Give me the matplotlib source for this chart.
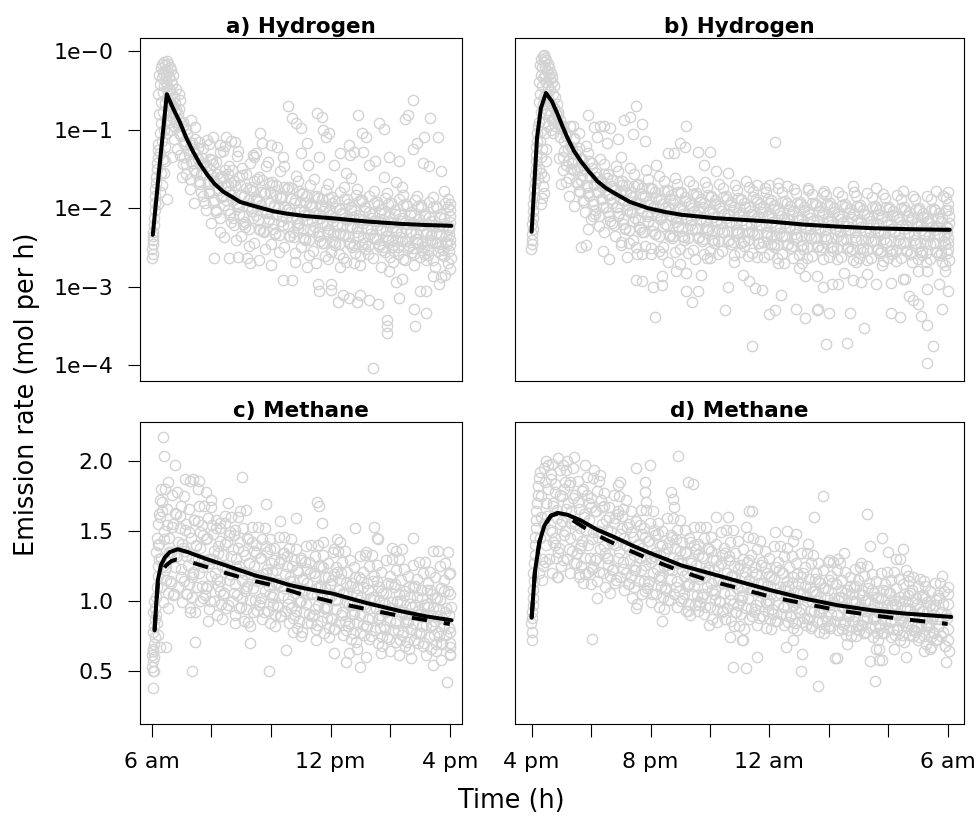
import numpy as np
import matplotlib
matplotlib.use("Agg")
import matplotlib.pyplot as plt

plt.rcParams['font.family'] = ['DejaVu Sans']

# ======================= Panel a: hydrogen, 6 am - 4 pm (log10 mol/h) =======================
a_rise_h = [6.00, 6.02, 6.01, 6.03, 6.04, 6.02, 6.05, 6.07, 6.06, 6.09,
            6.10, 6.12, 6.11, 6.14, 6.15, 6.17, 6.16, 6.19, 6.20, 6.22,
            6.52, 6.35, 6.40, 6.20, 6.28, 6.45]
a_rise_log = [-2.64, -2.58, -2.52, -2.46, -2.40, -2.35, -2.30, -2.22, -2.12, -2.02,
              -1.93, -1.85, -1.76, -1.68, -1.60, -1.50, -1.42, -1.35, -1.26, -1.18,
              -1.89, -1.70, -1.55, -1.95, -1.80, -1.40]
a_peak_h = [6.25, 6.30, 6.35, 6.40, 6.45, 6.50, 6.55, 6.60, 6.65, 6.70,
            6.22, 6.28, 6.33, 6.38, 6.43, 6.48, 6.53, 6.58, 6.63, 6.68,
            6.24, 6.30, 6.36, 6.42, 6.47, 6.52, 6.57, 6.62, 6.67, 6.73,
            6.26, 6.32, 6.38, 6.44, 6.50, 6.56, 6.61, 6.66, 6.72, 6.78,
            6.28, 6.34, 6.40, 6.46, 6.54, 6.60, 6.70, 6.76, 6.82, 6.88,
            6.30, 6.36, 6.44, 6.52, 6.64, 6.74, 6.80, 6.86, 6.92, 6.98,
            6.75, 6.85, 6.68, 6.90, 6.80, 6.90, 6.95]
a_peak_log = [-0.30, -0.22, -0.16, -0.14, -0.18, -0.13, -0.17, -0.20, -0.24, -0.30,
              -0.55, -0.42, -0.35, -0.28, -0.25, -0.30, -0.27, -0.33, -0.38, -0.42,
              -0.80, -0.65, -0.52, -0.45, -0.40, -0.44, -0.48, -0.50, -0.55, -0.58,
              -1.05, -0.92, -0.78, -0.66, -0.60, -0.64, -0.68, -0.72, -0.70, -0.66,
              -1.30, -1.15, -1.00, -0.88, -0.82, -0.90, -0.85, -0.78, -0.74, -0.80,
              -1.55, -1.38, -1.22, -1.05, -1.00, -0.95, -0.90, -0.95, -0.88, -0.92,
              -1.12, -1.25, -1.35, -1.05, -0.48, -0.55, -0.62]
a_band_h = [
    6.90, 7.03, 6.96, 7.09, 6.93, 7.06, 7.00,
    7.30, 7.16, 7.35, 7.23, 7.32, 7.14, 7.27,
    7.44, 7.58, 7.38, 7.54, 7.49, 7.61, 7.42,
    7.84, 7.70, 7.76, 7.65, 7.87, 7.72, 7.81,
    7.90, 8.03, 7.96, 8.09, 7.93, 8.06, 8.00,
    8.30, 8.16, 8.35, 8.23, 8.32, 8.14, 8.27,
    8.44, 8.58, 8.38, 8.54, 8.49, 8.61, 8.42,
    8.84, 8.70, 8.76, 8.65, 8.87, 8.72, 8.81,
    8.90, 9.03, 8.96, 9.09, 8.93, 9.06, 9.00,
    9.30, 9.16, 9.35, 9.23, 9.32, 9.14, 9.27,
    9.44, 9.58, 9.38, 9.54, 9.49, 9.61, 9.42,
    9.84, 9.70, 9.76, 9.65, 9.87, 9.72, 9.81,
    9.90, 10.03, 9.96, 10.09, 9.93, 10.06, 10.00,
    10.30, 10.16, 10.35, 10.23, 10.32, 10.14, 10.27,
    10.44, 10.58, 10.38, 10.54, 10.49, 10.61, 10.42,
    10.84, 10.70, 10.76, 10.65, 10.87, 10.72, 10.81,
    10.90, 11.03, 10.96, 11.09, 10.93, 11.06, 11.00,
    11.30, 11.16, 11.35, 11.23, 11.32, 11.14, 11.27,
    11.44, 11.58, 11.38, 11.54, 11.49, 11.61, 11.42,
    11.84, 11.70, 11.76, 11.65, 11.87, 11.72, 11.81,
    11.90, 12.03, 11.96, 12.09, 11.93, 12.06, 12.00,
    12.30, 12.16, 12.35, 12.23, 12.32, 12.14, 12.27,
    12.44, 12.58, 12.38, 12.54, 12.49, 12.61, 12.42,
    12.84, 12.70, 12.76, 12.65, 12.87, 12.72, 12.81,
    12.90, 13.03, 12.96, 13.09, 12.93, 13.06, 13.00,
    13.30, 13.16, 13.35, 13.23, 13.32, 13.14, 13.27,
    13.44, 13.58, 13.38, 13.54, 13.49, 13.61, 13.42,
    13.84, 13.70, 13.76, 13.65, 13.87, 13.72, 13.81,
    13.90, 14.03, 13.96, 14.09, 13.93, 14.06, 14.00,
    14.30, 14.16, 14.35, 14.23, 14.32, 14.14, 14.27,
    14.44, 14.58, 14.38, 14.54, 14.49, 14.61, 14.42,
    14.84, 14.70, 14.76, 14.65, 14.87, 14.72, 14.81,
    14.90, 15.03, 14.96, 15.09, 14.93, 15.06, 15.00,
    15.30, 15.16, 15.35, 15.23, 15.32, 15.14, 15.27,
    15.44, 15.58, 15.38, 15.54, 15.49, 15.61, 15.42,
    15.84, 15.70, 15.76, 15.65, 15.87, 15.72, 15.81,
    15.95, 16.00, 16.02, 15.97, 16.01, 15.99, 16.03,
    16.00, 16.01, 15.98, 16.02]
a_band_log = [
    -0.74, -0.91, -1.08, -1.19, -1.33, -1.44, -1.61,
    -0.88, -0.99, -1.17, -1.31, -1.40, -1.57, -1.76,
    -0.97, -1.16, -1.29, -1.38, -1.55, -1.69, -1.93,
    -1.13, -1.24, -1.43, -1.57, -1.66, -1.85, -2.03,
    -1.19, -1.39, -1.50, -1.66, -1.81, -1.92, -2.19,
    -1.28, -1.41, -1.59, -1.74, -1.86, -2.05, -2.30,
    -1.21, -1.46, -1.62, -1.71, -1.90, -2.08, -2.37,
    -1.34, -1.52, -1.65, -1.83, -1.97, -2.13, -2.41,
    -1.27, -1.49, -1.70, -1.84, -1.99, -2.20, -2.35,
    -1.42, -1.56, -1.73, -1.90, -2.04, -2.18, -2.48,
    -1.35, -1.61, -1.78, -1.88, -2.09, -2.26, -2.44,
    -1.46, -1.64, -1.81, -1.96, -2.06, -2.29, -2.52,
    -1.41, -1.67, -1.80, -1.99, -2.14, -2.27, -2.46,
    -1.53, -1.70, -1.87, -1.98, -2.17, -2.33, -2.56,
    -1.47, -1.73, -1.85, -2.03, -2.12, -2.36, -2.50,
    -1.59, -1.75, -1.93, -2.05, -2.22, -2.31, -2.57,
    -1.65, -1.81, -1.92, -2.09, -2.19, -2.38, -2.49,
    -1.71, -1.84, -1.99, -2.07, -2.26, -2.41, -2.60,
    -1.63, -1.87, -1.97, -2.14, -2.24, -2.35, -2.54,
    -1.77, -1.89, -2.04, -2.12, -2.29, -2.45, -2.61,
    -1.69, -1.93, -2.02, -2.17, -2.27, -2.42, -2.56,
    -1.80, -1.91, -2.08, -2.20, -2.32, -2.47, -2.59,
    -1.73, -1.95, -2.06, -2.15, -2.34, -2.44, -2.63,
    -1.83, -1.98, -2.11, -2.23, -2.30, -2.50, -2.57,
    -1.76, -1.90, -2.09, -2.19, -2.36, -2.46, -2.61,
    -1.85, -1.99, -2.13, -2.25, -2.33, -2.52, -2.58,
    -1.78, -1.96, -2.07, -2.22, -2.38, -2.48, -2.64,
    -1.87, -2.01, -2.15, -2.27, -2.35, -2.53, -2.56,
    -1.81, -1.94, -2.10, -2.24, -2.40, -2.50, -2.62,
    -1.89, -2.03, -2.17, -2.28, -2.37, -2.55, -2.59,
    -1.83, -1.97, -2.12, -2.26, -2.42, -2.51, -2.65,
    -1.90, -2.05, -2.19, -2.30, -2.39, -2.56, -2.58,
    -1.85, -1.99, -2.14, -2.29, -2.44, -2.53, -2.62,
    -1.92, -2.07, -2.21, -2.31, -2.40, -2.58, -2.60,
    -1.86, -2.00, -2.16, -2.32, -2.45, -2.54, -2.66,
    -1.93, -2.08, -2.23, -2.33, -2.43, -2.59, -2.61,
    -1.88, -2.02, -2.18, -2.34, -2.47, -2.55, -2.64,
    -1.95, -2.10, -2.26, -2.40]
a_core_h = [
    7.04, 7.17, 7.10, 7.21, 7.07, 7.14,
    7.44, 7.30, 7.48, 7.37, 7.41, 7.27,
    7.54, 7.67, 7.60, 7.71, 7.57, 7.64,
    7.94, 7.80, 7.98, 7.87, 7.91, 7.77,
    8.04, 8.17, 8.10, 8.21, 8.07, 8.14,
    8.44, 8.30, 8.48, 8.37, 8.41, 8.27,
    8.54, 8.67, 8.60, 8.71, 8.57, 8.64,
    8.94, 8.80, 8.98, 8.87, 8.91, 8.77,
    9.04, 9.17, 9.10, 9.21, 9.07, 9.14,
    9.44, 9.30, 9.48, 9.37, 9.41, 9.27,
    9.54, 9.67, 9.60, 9.71, 9.57, 9.64,
    9.94, 9.80, 9.98, 9.87, 9.91, 9.77,
    10.04, 10.17, 10.10, 10.21, 10.07, 10.14,
    10.44, 10.30, 10.48, 10.37, 10.41, 10.27,
    10.54, 10.67, 10.60, 10.71, 10.57, 10.64,
    10.94, 10.80, 10.98, 10.87, 10.91, 10.77,
    11.04, 11.17, 11.10, 11.21, 11.07, 11.14,
    11.44, 11.30, 11.48, 11.37, 11.41, 11.27,
    11.54, 11.67, 11.60, 11.71, 11.57, 11.64,
    11.94, 11.80, 11.98, 11.87, 11.91, 11.77,
    12.04, 12.17, 12.10, 12.21, 12.07, 12.14,
    12.44, 12.30, 12.48, 12.37, 12.41, 12.27,
    12.54, 12.67, 12.60, 12.71, 12.57, 12.64,
    12.94, 12.80, 12.98, 12.87, 12.91, 12.77,
    13.04, 13.17, 13.10, 13.21, 13.07, 13.14,
    13.44, 13.30, 13.48, 13.37, 13.41, 13.27,
    13.54, 13.67, 13.60, 13.71, 13.57, 13.64,
    13.94, 13.80, 13.98, 13.87, 13.91, 13.77,
    14.04, 14.17, 14.10, 14.21, 14.07, 14.14,
    14.44, 14.30, 14.48, 14.37, 14.41, 14.27,
    14.54, 14.67, 14.60, 14.71, 14.57, 14.64,
    14.94, 14.80, 14.98, 14.87, 14.91, 14.77,
    15.04, 15.17, 15.10, 15.21, 15.07, 15.14,
    15.44, 15.30, 15.48, 15.37, 15.41, 15.27,
    15.54, 15.67, 15.60, 15.71, 15.57, 15.64,
    15.94, 15.80, 15.98, 15.87, 15.91, 15.77]
a_core_log = [
    -0.96, -1.06, -1.15, -1.26, -1.35, -1.44,
    -1.12, -1.20, -1.31, -1.42, -1.52, -1.63,
    -1.24, -1.36, -1.45, -1.55, -1.66, -1.79,
    -1.37, -1.46, -1.58, -1.69, -1.78, -1.93,
    -1.44, -1.56, -1.66, -1.77, -1.90, -2.03,
    -1.52, -1.61, -1.73, -1.85, -1.96, -2.12,
    -1.56, -1.68, -1.78, -1.90, -2.02, -2.18,
    -1.60, -1.70, -1.83, -1.93, -2.07, -2.21,
    -1.58, -1.74, -1.85, -1.97, -2.10, -2.24,
    -1.65, -1.76, -1.89, -2.00, -2.12, -2.27,
    -1.63, -1.79, -1.91, -2.03, -2.15, -2.28,
    -1.68, -1.81, -1.94, -2.05, -2.17, -2.31,
    -1.70, -1.84, -1.96, -2.08, -2.19, -2.32,
    -1.73, -1.86, -1.98, -2.10, -2.21, -2.34,
    -1.76, -1.88, -2.00, -2.11, -2.23, -2.35,
    -1.78, -1.90, -2.02, -2.13, -2.25, -2.37,
    -1.82, -1.93, -2.04, -2.15, -2.27, -2.39,
    -1.85, -1.95, -2.06, -2.17, -2.29, -2.41,
    -1.84, -1.97, -2.08, -2.19, -2.30, -2.42,
    -1.87, -1.98, -2.09, -2.21, -2.32, -2.44,
    -1.86, -2.00, -2.11, -2.22, -2.33, -2.43,
    -1.89, -2.01, -2.12, -2.23, -2.34, -2.46,
    -1.88, -2.02, -2.13, -2.24, -2.35, -2.44,
    -1.91, -2.03, -2.14, -2.25, -2.36, -2.47,
    -1.90, -2.04, -2.15, -2.26, -2.37, -2.45,
    -1.93, -2.05, -2.16, -2.27, -2.38, -2.48,
    -1.92, -2.06, -2.17, -2.28, -2.39, -2.46,
    -1.95, -2.06, -2.18, -2.29, -2.40, -2.49,
    -1.94, -2.07, -2.18, -2.30, -2.41, -2.47,
    -1.96, -2.08, -2.19, -2.31, -2.42, -2.50,
    -1.95, -2.09, -2.20, -2.31, -2.42, -2.48,
    -1.97, -2.09, -2.21, -2.32, -2.43, -2.51,
    -1.96, -2.10, -2.21, -2.33, -2.44, -2.49,
    -1.98, -2.11, -2.22, -2.34, -2.45, -2.52,
    -1.97, -2.11, -2.23, -2.34, -2.45, -2.50,
    -1.99, -2.12, -2.24, -2.35, -2.46, -2.53]
a_high_h = [10.57, 10.70, 10.85, 11.00, 9.62, 8.05, 8.50, 8.65, 8.80, 8.30,
            8.40, 9.70, 10.00, 10.20, 9.40, 9.50, 11.20, 11.53, 11.70, 11.75,
            11.85, 11.95, 12.60, 12.65, 12.93, 13.04, 13.20, 13.50, 13.62, 13.80,
            13.80, 14.30, 14.50, 14.60, 14.77, 14.75, 14.90, 15.10, 15.33, 15.60,
            15.15, 15.70, 15.80, 12.30, 12.80, 13.10, 13.95, 15.30, 11.25, 11.60,
            12.10, 12.50, 13.30, 14.20, 14.40, 12.70, 11.00, 10.40]
a_high_log = [-0.70, -0.85, -0.92, -0.98, -1.04, -1.09, -1.10, -1.14, -1.16, -1.20,
              -1.27, -1.17, -1.20, -1.22, -1.32, -1.30, -1.17, -0.79, -0.84, -1.00,
              -1.09, -1.04, -1.20, -1.33, -0.82, -1.05, -1.10, -1.40, -0.92, -0.99,
              -1.60, -1.40, -0.86, -0.82, -0.62, -1.25, -1.17, -1.42, -0.85, -1.09,
              -1.10, -1.53, -1.78, -1.30, -1.28, -1.28, -1.35, -1.47, -1.45, -1.35,
              -1.45, -1.55, -1.45, -1.67, -1.73, -1.62, -1.30, -1.35]
a_low_h = [8.10, 8.60, 8.90, 9.20, 9.60, 10.40, 10.70, 11.57, 11.60, 12.00,
           12.02, 12.25, 12.40, 12.60, 12.90, 13.00, 13.30, 13.60, 13.88, 13.90,
           13.88, 14.20, 14.40, 14.30, 14.80, 14.82, 15.00, 15.20, 15.20, 15.45,
           15.70, 15.65, 13.43, 11.20, 11.50, 11.90, 12.30, 12.80, 13.00, 13.70,
           13.95, 14.50, 14.80, 15.20, 15.50, 15.85, 10.80, 10.00, 9.30, 12.50,
           14.10, 15.95, 16.00]
a_low_log = [-2.64, -2.64, -2.62, -2.64, -2.66, -2.92, -2.91, -2.97, -3.06, -2.96,
             -3.04, -3.20, -3.10, -3.15, -3.20, -3.10, -3.17, -3.22, -3.43, -3.50,
             -3.59, -2.94, -2.90, -3.14, -3.28, -3.50, -3.05, -3.05, -3.33, -2.87,
             -2.88, -2.97, -4.04, -2.75, -2.70, -2.65, -2.75, -2.70, -2.72, -2.75,
             -2.80, -2.66, -2.72, -2.66, -2.75, -2.85, -2.68, -2.72, -2.70, -2.68,
             -2.68, -2.70, -2.78]
a_fit_h = [6.03, 6.26, 6.50, 6.71, 6.93, 7.16, 7.38, 7.60, 7.83, 8.10, 8.39,
           8.70, 8.95, 9.40, 10.07, 10.52, 11.13, 12.08, 13.21, 14.33, 15.20, 16.05]
a_fit_log = [-2.34, -1.45, -0.55, -0.73, -0.90, -1.11, -1.28, -1.43, -1.56, -1.69, -1.79,
             -1.86, -1.92, -1.97, -2.04, -2.07, -2.10, -2.13, -2.17, -2.20, -2.215, -2.225]

# ======================= Panel b: hydrogen, 4 pm - 6 am (hours from midnight, day 1) ==========
b_rise_h = [15.98, 16.00, 16.02, 16.01, 16.03, 16.00, 16.04, 16.06, 16.05, 16.08,
            16.09, 16.11, 16.10, 16.13, 16.14, 16.16, 16.15, 16.18, 16.19, 16.21,
            16.35, 16.43, 16.33, 16.42, 16.50, 16.30, 16.38, 16.25, 16.20, 16.47]
b_rise_log = [-2.52, -2.46, -2.40, -2.33, -2.27, -2.20, -2.12, -2.04, -1.95, -1.86,
              -1.76, -1.68, -1.58, -1.50, -1.40, -1.32, -1.22, -1.15, -1.05, -0.95,
              -1.87, -1.81, -1.55, -1.60, -1.40, -1.95, -1.72, -1.50, -1.62, -1.25]
b_peak_h = [16.28, 16.33, 16.38, 16.42, 16.46, 16.50, 16.55, 16.60, 16.64, 16.70,
            16.25, 16.30, 16.35, 16.40, 16.45, 16.52, 16.57, 16.62, 16.68, 16.74,
            16.24, 16.29, 16.34, 16.39, 16.44, 16.49, 16.56, 16.63, 16.71, 16.78,
            16.26, 16.31, 16.37, 16.43, 16.48, 16.54, 16.61, 16.69, 16.76, 16.84,
            16.27, 16.33, 16.40, 16.47, 16.53, 16.60, 16.67, 16.74, 16.82, 16.90,
            16.30, 16.36, 16.46, 16.55, 16.65, 16.72, 16.80, 16.88, 16.95, 17.00]
b_peak_log = [-0.18, -0.10, -0.06, -0.05, -0.09, -0.12, -0.16, -0.22, -0.28, -0.33,
              -0.40, -0.30, -0.20, -0.14, -0.20, -0.26, -0.30, -0.36, -0.40, -0.45,
              -0.65, -0.55, -0.45, -0.34, -0.32, -0.40, -0.46, -0.50, -0.55, -0.58,
              -0.90, -0.78, -0.68, -0.58, -0.55, -0.60, -0.66, -0.70, -0.72, -0.68,
              -1.15, -1.02, -0.90, -0.80, -0.75, -0.82, -0.88, -0.85, -0.80, -0.78,
              -1.35, -1.25, -1.05, -0.95, -1.00, -1.05, -0.95, -0.92, -0.88, -0.96]
b_band_h = [
    16.90, 17.03, 16.96, 17.09, 16.93, 17.06, 17.00,
    17.30, 17.16, 17.35, 17.23, 17.32, 17.14, 17.27,
    17.44, 17.58, 17.38, 17.54, 17.49, 17.61, 17.42,
    17.84, 17.70, 17.76, 17.65, 17.87, 17.72, 17.81,
    17.90, 18.03, 17.96, 18.09, 17.93, 18.06, 18.00,
    18.30, 18.16, 18.35, 18.23, 18.32, 18.14, 18.27,
    18.44, 18.58, 18.38, 18.54, 18.49, 18.61, 18.42,
    18.84, 18.70, 18.76, 18.65, 18.87, 18.72, 18.81,
    18.90, 19.03, 18.96, 19.09, 18.93, 19.06, 19.00,
    19.30, 19.16, 19.35, 19.23, 19.32, 19.14, 19.27,
    19.44, 19.58, 19.38, 19.54, 19.49, 19.61, 19.42,
    19.84, 19.70, 19.76, 19.65, 19.87, 19.72, 19.81,
    19.90, 20.03, 19.96, 20.09, 19.93, 20.06, 20.00,
    20.30, 20.16, 20.35, 20.23, 20.32, 20.14, 20.27,
    20.44, 20.58, 20.38, 20.54, 20.49, 20.61, 20.42,
    20.84, 20.70, 20.76, 20.65, 20.87, 20.72, 20.81,
    20.90, 21.03, 20.96, 21.09, 20.93, 21.06, 21.00,
    21.30, 21.16, 21.35, 21.23, 21.32, 21.14, 21.27,
    21.44, 21.58, 21.38, 21.54, 21.49, 21.61, 21.42,
    21.84, 21.70, 21.76, 21.65, 21.87, 21.72, 21.81,
    21.90, 22.03, 21.96, 22.09, 21.93, 22.06, 22.00,
    22.30, 22.16, 22.35, 22.23, 22.32, 22.14, 22.27,
    22.44, 22.58, 22.38, 22.54, 22.49, 22.61, 22.42,
    22.84, 22.70, 22.76, 22.65, 22.87, 22.72, 22.81,
    22.90, 23.03, 22.96, 23.09, 22.93, 23.06, 23.00,
    23.30, 23.16, 23.35, 23.23, 23.32, 23.14, 23.27,
    23.44, 23.58, 23.38, 23.54, 23.49, 23.61, 23.42,
    23.84, 23.70, 23.76, 23.65, 23.87, 23.72, 23.81,
    23.90, 24.03, 23.96, 24.09, 23.93, 24.06, 24.00,
    24.30, 24.16, 24.35, 24.23, 24.32, 24.14, 24.27,
    24.44, 24.58, 24.38, 24.54, 24.49, 24.61, 24.42,
    24.84, 24.70, 24.76, 24.65, 24.87, 24.72, 24.81,
    24.90, 25.03, 24.96, 25.09, 24.93, 25.06, 25.00,
    25.30, 25.16, 25.35, 25.23, 25.32, 25.14, 25.27,
    25.44, 25.58, 25.38, 25.54, 25.49, 25.61, 25.42,
    25.84, 25.70, 25.76, 25.65, 25.87, 25.72, 25.81,
    25.90, 26.03, 25.96, 26.09, 25.93, 26.06, 26.00,
    26.30, 26.16, 26.35, 26.23, 26.32, 26.14, 26.27,
    26.44, 26.58, 26.38, 26.54, 26.49, 26.61, 26.42,
    26.84, 26.70, 26.76, 26.65, 26.87, 26.72, 26.81,
    26.90, 27.03, 26.96, 27.09, 26.93, 27.06, 27.00,
    27.30, 27.16, 27.35, 27.23, 27.32, 27.14, 27.27,
    27.44, 27.58, 27.38, 27.54, 27.49, 27.61, 27.42,
    27.84, 27.70, 27.76, 27.65, 27.87, 27.72, 27.81,
    27.90, 28.03, 27.96, 28.09, 27.93, 28.06, 28.00,
    28.30, 28.16, 28.35, 28.23, 28.32, 28.14, 28.27,
    28.44, 28.58, 28.38, 28.54, 28.49, 28.61, 28.42,
    28.84, 28.70, 28.76, 28.65, 28.87, 28.72, 28.81,
    28.90, 29.03, 28.96, 29.09, 28.93, 29.06, 29.00,
    29.30, 29.16, 29.35, 29.23, 29.32, 29.14, 29.27,
    29.44, 29.58, 29.38, 29.54, 29.49, 29.61, 29.42,
    29.84, 29.70, 29.76, 29.65, 29.87, 29.72, 29.81,
    29.95, 30.00, 30.03, 29.98, 30.01, 29.97, 30.04,
    30.02, 30.00, 30.03, 29.98, 30.01, 30.00]
b_band_log = [
    -0.81, -0.99, -1.10, -1.27, -1.36, -1.52, -1.69,
    -0.96, -1.08, -1.25, -1.40, -1.50, -1.67, -1.84,
    -1.11, -1.23, -1.41, -1.50, -1.67, -1.78, -1.97,
    -1.21, -1.38, -1.49, -1.64, -1.73, -1.90, -2.05,
    -1.30, -1.43, -1.60, -1.69, -1.85, -1.95, -2.14,
    -1.38, -1.55, -1.64, -1.79, -1.88, -2.07, -2.23,
    -1.44, -1.56, -1.73, -1.82, -1.98, -2.10, -2.31,
    -1.46, -1.64, -1.74, -1.89, -1.99, -2.19, -2.36,
    -1.53, -1.65, -1.81, -1.90, -2.06, -2.20, -2.43,
    -1.49, -1.70, -1.80, -1.96, -2.05, -2.25, -2.44,
    -1.57, -1.69, -1.86, -1.95, -2.12, -2.24, -2.41,
    -1.52, -1.74, -1.85, -2.00, -2.10, -2.30, -2.48,
    -1.63, -1.75, -1.91, -2.00, -2.16, -2.29, -2.51,
    -1.59, -1.79, -1.89, -2.05, -2.14, -2.33, -2.54,
    -1.66, -1.78, -1.95, -2.04, -2.20, -2.35, -2.50,
    -1.62, -1.83, -1.93, -2.09, -2.18, -2.38, -2.56,
    -1.69, -1.81, -1.98, -2.07, -2.23, -2.36, -2.52,
    -1.65, -1.86, -1.96, -2.12, -2.21, -2.40, -2.57,
    -1.71, -1.84, -2.00, -2.09, -2.26, -2.38, -2.53,
    -1.67, -1.88, -1.98, -2.14, -2.24, -2.42, -2.58,
    -1.73, -1.86, -2.02, -2.11, -2.28, -2.40, -2.54,
    -1.69, -1.90, -2.00, -2.16, -2.26, -2.44, -2.59,
    -1.75, -1.88, -2.04, -2.13, -2.30, -2.42, -2.55,
    -1.71, -1.92, -2.02, -2.18, -2.28, -2.46, -2.60,
    -1.77, -1.90, -2.06, -2.15, -2.32, -2.44, -2.56,
    -1.73, -1.94, -2.04, -2.20, -2.30, -2.48, -2.61,
    -1.78, -1.92, -2.08, -2.17, -2.34, -2.45, -2.57,
    -1.74, -1.95, -2.05, -2.22, -2.31, -2.49, -2.62,
    -1.79, -1.93, -2.09, -2.18, -2.35, -2.46, -2.58,
    -1.75, -1.96, -2.06, -2.23, -2.32, -2.50, -2.63,
    -1.80, -1.94, -2.10, -2.19, -2.36, -2.47, -2.59,
    -1.76, -1.97, -2.07, -2.24, -2.33, -2.51, -2.64,
    -1.81, -1.95, -2.11, -2.20, -2.37, -2.48, -2.60,
    -1.77, -1.98, -2.08, -2.25, -2.34, -2.52, -2.64,
    -1.82, -1.96, -2.12, -2.21, -2.38, -2.49, -2.61,
    -1.78, -1.99, -2.09, -2.26, -2.35, -2.53, -2.65,
    -1.83, -1.97, -2.13, -2.22, -2.39, -2.50, -2.62,
    -1.79, -2.00, -2.10, -2.27, -2.36, -2.54, -2.65,
    -1.84, -1.98, -2.14, -2.23, -2.40, -2.51, -2.62,
    -1.80, -2.01, -2.11, -2.28, -2.37, -2.55, -2.66,
    -1.85, -1.99, -2.15, -2.24, -2.41, -2.52, -2.63,
    -1.81, -2.02, -2.12, -2.29, -2.38, -2.56, -2.66,
    -1.86, -2.00, -2.16, -2.25, -2.42, -2.53, -2.63,
    -1.82, -2.03, -2.13, -2.30, -2.39, -2.57, -2.67,
    -1.87, -2.01, -2.17, -2.26, -2.43, -2.54, -2.64,
    -1.83, -2.04, -2.14, -2.31, -2.40, -2.58, -2.67,
    -1.88, -2.02, -2.18, -2.27, -2.44, -2.55, -2.64,
    -1.84, -2.05, -2.15, -2.32, -2.41, -2.59, -2.68,
    -1.89, -2.03, -2.19, -2.28, -2.45, -2.56, -2.65,
    -1.85, -2.06, -2.16, -2.33, -2.42, -2.60, -2.68,
    -1.88, -2.03, -2.19, -2.28, -2.45, -2.56, -2.65,
    -1.84, -2.06, -2.16, -2.33, -2.42, -2.60, -2.69,
    -1.87, -2.03, -2.19, -2.30, -2.45, -2.57, -2.66,
    -1.80, -1.95, -2.10, -2.25, -2.38, -2.52]
b_core_h = [
    17.04, 17.17, 17.10, 17.21, 17.07, 17.14,
    17.44, 17.30, 17.48, 17.37, 17.41, 17.27,
    17.54, 17.67, 17.60, 17.71, 17.57, 17.64,
    17.94, 17.80, 17.98, 17.87, 17.91, 17.77,
    18.04, 18.17, 18.10, 18.21, 18.07, 18.14,
    18.44, 18.30, 18.48, 18.37, 18.41, 18.27,
    18.54, 18.67, 18.60, 18.71, 18.57, 18.64,
    18.94, 18.80, 18.98, 18.87, 18.91, 18.77,
    19.04, 19.17, 19.10, 19.21, 19.07, 19.14,
    19.44, 19.30, 19.48, 19.37, 19.41, 19.27,
    19.54, 19.67, 19.60, 19.71, 19.57, 19.64,
    19.94, 19.80, 19.98, 19.87, 19.91, 19.77,
    20.04, 20.17, 20.10, 20.21, 20.07, 20.14,
    20.44, 20.30, 20.48, 20.37, 20.41, 20.27,
    20.54, 20.67, 20.60, 20.71, 20.57, 20.64,
    20.94, 20.80, 20.98, 20.87, 20.91, 20.77,
    21.04, 21.17, 21.10, 21.21, 21.07, 21.14,
    21.44, 21.30, 21.48, 21.37, 21.41, 21.27,
    21.54, 21.67, 21.60, 21.71, 21.57, 21.64,
    21.94, 21.80, 21.98, 21.87, 21.91, 21.77,
    22.04, 22.17, 22.10, 22.21, 22.07, 22.14,
    22.44, 22.30, 22.48, 22.37, 22.41, 22.27,
    22.54, 22.67, 22.60, 22.71, 22.57, 22.64,
    22.94, 22.80, 22.98, 22.87, 22.91, 22.77,
    23.04, 23.17, 23.10, 23.21, 23.07, 23.14,
    23.44, 23.30, 23.48, 23.37, 23.41, 23.27,
    23.54, 23.67, 23.60, 23.71, 23.57, 23.64,
    23.94, 23.80, 23.98, 23.87, 23.91, 23.77,
    24.04, 24.17, 24.10, 24.21, 24.07, 24.14,
    24.44, 24.30, 24.48, 24.37, 24.41, 24.27,
    24.54, 24.67, 24.60, 24.71, 24.57, 24.64,
    24.94, 24.80, 24.98, 24.87, 24.91, 24.77,
    25.04, 25.17, 25.10, 25.21, 25.07, 25.14,
    25.44, 25.30, 25.48, 25.37, 25.41, 25.27,
    25.54, 25.67, 25.60, 25.71, 25.57, 25.64,
    25.94, 25.80, 25.98, 25.87, 25.91, 25.77,
    26.04, 26.17, 26.10, 26.21, 26.07, 26.14,
    26.44, 26.30, 26.48, 26.37, 26.41, 26.27,
    26.54, 26.67, 26.60, 26.71, 26.57, 26.64,
    26.94, 26.80, 26.98, 26.87, 26.91, 26.77,
    27.04, 27.17, 27.10, 27.21, 27.07, 27.14,
    27.44, 27.30, 27.48, 27.37, 27.41, 27.27,
    27.54, 27.67, 27.60, 27.71, 27.57, 27.64,
    27.94, 27.80, 27.98, 27.87, 27.91, 27.77,
    28.04, 28.17, 28.10, 28.21, 28.07, 28.14,
    28.44, 28.30, 28.48, 28.37, 28.41, 28.27,
    28.54, 28.67, 28.60, 28.71, 28.57, 28.64,
    28.94, 28.80, 28.98, 28.87, 28.91, 28.77,
    29.04, 29.17, 29.10, 29.21, 29.07, 29.14,
    29.44, 29.30, 29.48, 29.37, 29.41, 29.27,
    29.54, 29.67, 29.60, 29.71, 29.57, 29.64,
    29.94, 29.80, 29.98, 29.87, 29.91, 29.77]
b_core_log = [
    -0.96, -1.05, -1.15, -1.25, -1.35, -1.45,
    -1.12, -1.21, -1.31, -1.42, -1.52, -1.62,
    -1.27, -1.37, -1.48, -1.58, -1.69, -1.80,
    -1.40, -1.50, -1.60, -1.71, -1.81, -1.92,
    -1.49, -1.60, -1.70, -1.80, -1.91, -2.02,
    -1.57, -1.67, -1.77, -1.88, -1.99, -2.10,
    -1.62, -1.72, -1.83, -1.94, -2.05, -2.16,
    -1.67, -1.77, -1.88, -1.99, -2.10, -2.22,
    -1.70, -1.80, -1.91, -2.02, -2.14, -2.26,
    -1.72, -1.83, -1.94, -2.05, -2.16, -2.28,
    -1.71, -1.82, -1.93, -2.04, -2.15, -2.27,
    -1.74, -1.85, -1.96, -2.07, -2.18, -2.30,
    -1.76, -1.87, -1.98, -2.09, -2.21, -2.33,
    -1.78, -1.89, -2.00, -2.11, -2.23, -2.35,
    -1.77, -1.88, -1.99, -2.10, -2.22, -2.34,
    -1.79, -1.90, -2.01, -2.12, -2.24, -2.36,
    -1.80, -1.91, -2.02, -2.14, -2.25, -2.37,
    -1.82, -1.93, -2.04, -2.15, -2.26, -2.38,
    -1.81, -1.92, -2.03, -2.14, -2.26, -2.37,
    -1.83, -1.94, -2.05, -2.16, -2.27, -2.39,
    -1.84, -1.95, -2.06, -2.17, -2.29, -2.41,
    -1.86, -1.97, -2.08, -2.19, -2.30, -2.42,
    -1.85, -1.96, -2.07, -2.18, -2.29, -2.41,
    -1.87, -1.98, -2.09, -2.20, -2.31, -2.43,
    -1.88, -1.99, -2.10, -2.21, -2.32, -2.42,
    -1.86, -1.98, -2.09, -2.20, -2.31, -2.41,
    -1.89, -2.00, -2.11, -2.22, -2.33, -2.44,
    -1.88, -1.99, -2.10, -2.21, -2.32, -2.43,
    -1.90, -2.01, -2.12, -2.23, -2.35, -2.46,
    -1.92, -2.03, -2.14, -2.25, -2.36, -2.47,
    -1.91, -2.02, -2.13, -2.24, -2.35, -2.46,
    -1.93, -2.04, -2.15, -2.26, -2.37, -2.48,
    -1.92, -2.03, -2.14, -2.25, -2.36, -2.47,
    -1.94, -2.05, -2.16, -2.27, -2.38, -2.49,
    -1.93, -2.04, -2.15, -2.26, -2.37, -2.48,
    -1.95, -2.06, -2.17, -2.28, -2.39, -2.50,
    -1.94, -2.05, -2.16, -2.27, -2.38, -2.49,
    -1.96, -2.07, -2.18, -2.29, -2.40, -2.51,
    -1.95, -2.06, -2.17, -2.28, -2.39, -2.50,
    -1.97, -2.08, -2.19, -2.30, -2.41, -2.52,
    -1.96, -2.07, -2.18, -2.29, -2.40, -2.51,
    -1.98, -2.09, -2.20, -2.31, -2.42, -2.53,
    -1.97, -2.08, -2.19, -2.30, -2.41, -2.52,
    -1.99, -2.10, -2.21, -2.32, -2.43, -2.54,
    -1.98, -2.09, -2.20, -2.31, -2.42, -2.53,
    -2.00, -2.11, -2.22, -2.33, -2.44, -2.55,
    -1.99, -2.10, -2.21, -2.32, -2.43, -2.54,
    -2.01, -2.12, -2.23, -2.34, -2.45, -2.56,
    -2.00, -2.11, -2.22, -2.33, -2.44, -2.55,
    -2.02, -2.13, -2.24, -2.35, -2.46, -2.57,
    -2.01, -2.12, -2.23, -2.34, -2.45, -2.56,
    -2.02, -2.13, -2.24, -2.35, -2.46, -2.57]
b_high_h = [17.90, 19.50, 18.10, 18.30, 18.45, 18.65, 19.10, 19.30, 19.70, 19.40,
            19.80, 21.20, 18.20, 18.55, 18.90, 21.00, 21.15, 21.60, 22.00, 20.60,
            20.80, 21.80, 22.20, 24.20, 24.30, 24.60, 23.60, 24.00, 25.80, 22.60,
            26.80, 27.60, 28.50, 29.60, 25.30, 23.20, 20.20, 19.00, 17.40, 17.60]
b_high_log = [-0.81, -0.70, -0.97, -0.95, -0.96, -0.98, -0.88, -0.84, -0.93, -1.06,
              -1.14, -0.96, -1.10, -1.17, -1.12, -1.17, -1.22, -1.28, -1.28, -1.30,
              -1.30, -1.45, -1.53, -1.16, -1.68, -1.72, -1.70, -1.70, -1.81, -1.55,
              -1.72, -1.75, -1.78, -1.78, -1.74, -1.66, -1.45, -1.35, -0.95, -1.05]
b_low_h = [17.66, 17.90, 17.83, 18.05, 19.00, 19.50, 19.55, 19.70, 20.00, 20.40,
           21.00, 21.20, 20.85, 20.40, 19.50, 19.70, 20.10, 20.40, 21.20, 21.60,
           21.40, 21.70, 21.90, 22.00, 22.60, 22.50, 20.15, 23.10, 23.30, 23.50,
           23.75, 24.40, 24.00, 24.20, 24.90, 25.20, 25.60, 25.65, 26.00, 26.70,
           27.20, 25.90, 26.60, 23.40, 28.10, 28.40, 28.70, 29.00, 28.85, 29.10,
           29.30, 29.50, 29.30, 29.80, 30.00, 29.70, 29.30, 27.60, 28.10, 28.50,
           26.10, 26.30, 25.80, 26.50, 26.80, 27.10, 27.30, 25.20, 25.60, 25.00,
           25.10, 24.30, 24.50, 23.60, 28.55, 29.00, 29.30, 29.90, 29.92, 27.80,
           26.90, 22.80, 21.50, 20.60, 19.20, 18.40, 18.60]
b_low_log = [-2.49, -2.26, -2.47, -2.10, -2.47, -2.49, -2.59, -2.59, -2.58, -2.58,
             -2.71, -2.83, -2.80, -2.86, -2.91, -2.93, -3.00, -2.98, -3.06, -3.06,
             -3.19, -2.85, -2.64, -2.64, -3.00, -3.30, -3.38, -2.85, -2.93, -3.02,
             -3.04, -3.10, -3.35, -3.30, -3.29, -3.40, -3.30, -3.29, -3.33, -3.33,
             -3.52, -3.73, -3.72, -3.76, -3.33, -3.39, -3.12, -3.22, -3.17, -3.37,
             -3.49, -3.75, -3.97, -3.29, -3.05, -2.96, -3.03, -2.97, -2.95, -2.90,
             -2.97, -2.97, -3.00, -2.82, -2.92, -2.94, -2.84, -2.86, -2.86, -2.76,
             -2.70, -2.70, -2.70, -2.62, -2.90, -2.80, -2.80, -2.80, -2.72, -2.72,
             -2.68, -2.68, -2.65, -2.68, -2.62, -2.55, -2.65]
b_fit_h = [16.00, 16.09, 16.18, 16.31, 16.48, 16.68, 16.88, 17.05, 17.21, 17.42, 17.66,
           17.94, 18.22, 18.50, 18.79, 19.30, 19.91, 20.50, 21.04, 22.16, 23.10, 24.00,
           25.18, 26.30, 27.43, 28.70, 30.07]
b_fit_log = [-2.30, -1.70, -1.11, -0.73, -0.535, -0.64, -0.81, -0.97, -1.11, -1.27, -1.405,
             -1.54, -1.66, -1.745, -1.81, -1.92, -2.00, -2.05, -2.085, -2.127, -2.149, -2.17,
             -2.21, -2.235, -2.255, -2.268, -2.276]

# ======================= Panel c: methane, 6 am - 4 pm (mol/h) =======================
c_rise_h = [6.03, 6.02, 6.06, 6.00, 6.04, 6.01, 6.05, 6.07, 6.03, 6.08,
            6.10, 6.02, 6.06, 6.09, 6.04, 6.12, 6.08, 6.15, 6.13, 6.18,
            6.26, 6.20, 6.16, 6.19, 6.22, 6.14, 6.25, 6.18, 6.21, 6.24,
            6.27, 6.22]
c_rise_v = [0.375, 0.50, 0.50, 0.53, 0.57, 0.61, 0.64, 0.60, 0.66, 0.69,
            0.74, 0.78, 0.82, 0.87, 0.92, 0.95, 1.00, 1.03, 0.90, 0.84,
            0.67, 0.76, 1.10, 1.18, 1.25, 1.35, 1.30, 1.45, 1.55, 1.62,
            1.72, 1.40]
c_band_h = [
    6.30, 6.35, 6.27, 6.41, 6.25, 6.32, 6.43, 6.29, 6.38,
    6.67, 6.50, 6.72, 6.57, 6.64, 6.47, 6.60, 6.70, 6.54,
    6.85, 6.99, 6.79, 6.93, 7.03, 6.83, 6.96, 6.88, 7.00,
    7.08, 7.25, 7.16, 7.31, 7.12, 7.22, 7.33, 7.19, 7.28,
    7.57, 7.40, 7.62, 7.47, 7.54, 7.37, 7.50, 7.60, 7.44,
    7.75, 7.89, 7.69, 7.83, 7.93, 7.73, 7.86, 7.78, 7.90,
    7.98, 8.15, 8.06, 8.21, 8.02, 8.12, 8.23, 8.09, 8.18,
    8.47, 8.30, 8.52, 8.37, 8.44, 8.27, 8.40, 8.50, 8.34,
    8.65, 8.79, 8.59, 8.73, 8.83, 8.63, 8.76, 8.68, 8.80,
    8.88, 9.05, 8.96, 9.11, 8.92, 9.02, 9.13, 8.99, 9.08,
    9.37, 9.20, 9.42, 9.27, 9.34, 9.17, 9.30, 9.40, 9.24,
    9.55, 9.69, 9.49, 9.63, 9.73, 9.53, 9.66, 9.58, 9.70,
    9.78, 9.95, 9.86, 10.01, 9.82, 9.92, 10.03, 9.89, 9.98,
    10.27, 10.10, 10.32, 10.17, 10.24, 10.07, 10.20, 10.30, 10.14,
    10.45, 10.59, 10.39, 10.53, 10.63, 10.43, 10.56, 10.48, 10.60,
    10.68, 10.85, 10.76, 10.91, 10.72, 10.82, 10.93, 10.79, 10.88,
    11.17, 11.00, 11.22, 11.07, 11.14, 10.97, 11.10, 11.20, 11.04,
    11.35, 11.49, 11.29, 11.43, 11.53, 11.33, 11.46, 11.38, 11.50,
    11.58, 11.75, 11.66, 11.81, 11.62, 11.72, 11.83, 11.69, 11.78,
    12.07, 11.90, 12.12, 11.97, 12.04, 11.87, 12.00, 12.10, 11.94,
    12.25, 12.39, 12.19, 12.33, 12.43, 12.23, 12.36, 12.28, 12.40,
    12.48, 12.65, 12.56, 12.71, 12.52, 12.62, 12.73, 12.59, 12.68,
    12.97, 12.80, 13.02, 12.87, 12.94, 12.77, 12.90, 13.00, 12.84,
    13.15, 13.29, 13.09, 13.23, 13.33, 13.13, 13.26, 13.18, 13.30,
    13.38, 13.55, 13.46, 13.61, 13.42, 13.52, 13.63, 13.49, 13.58,
    13.87, 13.70, 13.92, 13.77, 13.84, 13.67, 13.80, 13.90, 13.74,
    14.05, 14.19, 13.99, 14.13, 14.23, 14.03, 14.16, 14.08, 14.20,
    14.28, 14.45, 14.36, 14.51, 14.32, 14.42, 14.53, 14.39, 14.48,
    14.77, 14.60, 14.82, 14.67, 14.74, 14.57, 14.70, 14.80, 14.64,
    14.95, 15.09, 14.89, 15.03, 15.13, 14.93, 15.06, 14.98, 15.10,
    15.18, 15.35, 15.26, 15.41, 15.22, 15.32, 15.43, 15.29, 15.38,
    15.67, 15.50, 15.72, 15.57, 15.64, 15.47, 15.60, 15.70, 15.54,
    15.85, 15.99, 15.79, 15.93, 16.03, 15.83, 15.96, 15.88, 16.00,
    16.00, 16.01, 15.99, 16.02, 16.00, 16.01]
c_band_v = [
    1.80, 1.71, 1.60, 1.50, 1.41, 1.31, 1.22, 1.10, 0.99,
    1.76, 1.66, 1.55, 1.45, 1.35, 1.24, 1.14, 1.04, 0.95,
    1.78, 1.68, 1.63, 1.52, 1.38, 1.32, 1.17, 1.10, 0.99,
    1.75, 1.66, 1.55, 1.45, 1.36, 1.26, 1.17, 1.05, 0.95,
    1.68, 1.58, 1.49, 1.39, 1.30, 1.19, 1.10, 1.00, 0.92,
    1.68, 1.59, 1.54, 1.44, 1.30, 1.24, 1.11, 1.04, 0.94,
    1.67, 1.58, 1.48, 1.39, 1.30, 1.20, 1.11, 1.00, 0.90,
    1.61, 1.52, 1.42, 1.33, 1.24, 1.14, 1.04, 0.95, 0.87,
    1.60, 1.51, 1.47, 1.37, 1.24, 1.19, 1.06, 1.00, 0.90,
    1.60, 1.52, 1.42, 1.33, 1.25, 1.15, 1.07, 0.96, 0.86,
    1.53, 1.45, 1.36, 1.27, 1.19, 1.09, 1.01, 0.92, 0.85,
    1.53, 1.44, 1.40, 1.31, 1.19, 1.14, 1.02, 0.97, 0.87,
    1.52, 1.44, 1.35, 1.27, 1.20, 1.11, 1.03, 0.93, 0.84,
    1.46, 1.38, 1.30, 1.22, 1.13, 1.05, 0.97, 0.89, 0.82,
    1.46, 1.38, 1.34, 1.25, 1.14, 1.09, 0.98, 0.93, 0.84,
    1.44, 1.37, 1.29, 1.21, 1.14, 1.06, 0.99, 0.90, 0.81,
    1.39, 1.31, 1.23, 1.16, 1.08, 1.00, 0.92, 0.84, 0.78,
    1.40, 1.32, 1.28, 1.20, 1.09, 1.05, 0.94, 0.89, 0.80,
    1.40, 1.33, 1.25, 1.17, 1.10, 1.02, 0.95, 0.86, 0.77,
    1.35, 1.27, 1.19, 1.12, 1.04, 0.96, 0.88, 0.80, 0.74,
    1.36, 1.28, 1.24, 1.16, 1.05, 1.01, 0.90, 0.85, 0.76,
    1.36, 1.29, 1.21, 1.13, 1.06, 0.98, 0.91, 0.82, 0.73,
    1.32, 1.24, 1.16, 1.09, 1.01, 0.93, 0.85, 0.77, 0.71,
    1.33, 1.25, 1.21, 1.13, 1.02, 0.98, 0.87, 0.82, 0.73,
    1.33, 1.26, 1.18, 1.10, 1.03, 0.95, 0.88, 0.79, 0.70,
    1.29, 1.21, 1.13, 1.06, 0.98, 0.90, 0.82, 0.74, 0.68,
    1.30, 1.22, 1.18, 1.10, 1.00, 0.95, 0.84, 0.79, 0.71,
    1.30, 1.23, 1.15, 1.07, 1.00, 0.92, 0.85, 0.76, 0.68,
    1.26, 1.18, 1.11, 1.03, 0.96, 0.87, 0.80, 0.72, 0.66,
    1.28, 1.20, 1.16, 1.08, 0.97, 0.93, 0.82, 0.77, 0.68,
    1.28, 1.21, 1.13, 1.05, 0.98, 0.90, 0.83, 0.74, 0.66,
    1.25, 1.17, 1.09, 1.02, 0.94, 0.86, 0.78, 0.70, 0.64,
    1.27, 1.19, 1.15, 1.07, 0.96, 0.92, 0.81, 0.76, 0.67,
    1.20, 1.05, 0.90, 0.78, 0.70, 0.62]
c_core_h = [
    6.35, 6.50, 6.42, 6.56, 6.38, 6.47, 6.53,
    6.82, 6.66, 6.87, 6.73, 6.79, 6.63, 6.75,
    6.95, 7.10, 7.02, 7.16, 6.98, 7.07, 7.13,
    7.42, 7.26, 7.47, 7.33, 7.39, 7.23, 7.35,
    7.55, 7.70, 7.62, 7.76, 7.58, 7.67, 7.73,
    8.02, 7.86, 8.07, 7.93, 7.99, 7.83, 7.95,
    8.15, 8.30, 8.22, 8.36, 8.18, 8.27, 8.33,
    8.62, 8.46, 8.67, 8.53, 8.59, 8.43, 8.55,
    8.75, 8.90, 8.82, 8.96, 8.78, 8.87, 8.93,
    9.22, 9.06, 9.27, 9.13, 9.19, 9.03, 9.15,
    9.35, 9.50, 9.42, 9.56, 9.38, 9.47, 9.53,
    9.82, 9.66, 9.87, 9.73, 9.79, 9.63, 9.75,
    9.95, 10.10, 10.02, 10.16, 9.98, 10.07, 10.13,
    10.42, 10.26, 10.47, 10.33, 10.39, 10.23, 10.35,
    10.55, 10.70, 10.62, 10.76, 10.58, 10.67, 10.73,
    11.02, 10.86, 11.07, 10.93, 10.99, 10.83, 10.95,
    11.15, 11.30, 11.22, 11.36, 11.18, 11.27, 11.33,
    11.62, 11.46, 11.67, 11.53, 11.59, 11.43, 11.55,
    11.75, 11.90, 11.82, 11.96, 11.78, 11.87, 11.93,
    12.22, 12.06, 12.27, 12.13, 12.19, 12.03, 12.15,
    12.35, 12.50, 12.42, 12.56, 12.38, 12.47, 12.53,
    12.82, 12.66, 12.87, 12.73, 12.79, 12.63, 12.75,
    12.95, 13.10, 13.02, 13.16, 12.98, 13.07, 13.13,
    13.42, 13.26, 13.47, 13.33, 13.39, 13.23, 13.35,
    13.55, 13.70, 13.62, 13.76, 13.58, 13.67, 13.73,
    14.02, 13.86, 14.07, 13.93, 13.99, 13.83, 13.95,
    14.15, 14.30, 14.22, 14.36, 14.18, 14.27, 14.33,
    14.62, 14.46, 14.67, 14.53, 14.59, 14.43, 14.55,
    14.75, 14.90, 14.82, 14.96, 14.78, 14.87, 14.93,
    15.22, 15.06, 15.27, 15.13, 15.19, 15.03, 15.15,
    15.35, 15.50, 15.42, 15.56, 15.38, 15.47, 15.53,
    15.82, 15.66, 15.87, 15.73, 15.79, 15.63, 15.75]
c_core_v = [
    1.64, 1.54, 1.44, 1.35, 1.25, 1.15, 1.06,
    1.62, 1.53, 1.42, 1.33, 1.24, 1.13, 1.05,
    1.61, 1.51, 1.41, 1.32, 1.23, 1.14, 1.05,
    1.58, 1.49, 1.40, 1.31, 1.21, 1.12, 1.03,
    1.57, 1.47, 1.38, 1.29, 1.20, 1.11, 1.02,
    1.54, 1.45, 1.36, 1.27, 1.18, 1.09, 1.00,
    1.52, 1.43, 1.34, 1.25, 1.16, 1.07, 0.98,
    1.49, 1.41, 1.32, 1.23, 1.15, 1.06, 0.97,
    1.47, 1.38, 1.30, 1.21, 1.12, 1.04, 0.95,
    1.44, 1.36, 1.27, 1.19, 1.11, 1.02, 0.94,
    1.42, 1.34, 1.25, 1.17, 1.09, 1.01, 0.93,
    1.39, 1.31, 1.23, 1.15, 1.07, 0.99, 0.92,
    1.37, 1.29, 1.21, 1.13, 1.05, 0.97, 0.90,
    1.34, 1.27, 1.19, 1.11, 1.04, 0.96, 0.89,
    1.32, 1.25, 1.17, 1.10, 1.02, 0.95, 0.88,
    1.29, 1.22, 1.15, 1.08, 1.00, 0.93, 0.86,
    1.28, 1.20, 1.13, 1.06, 0.98, 0.91, 0.84,
    1.25, 1.18, 1.11, 1.04, 0.97, 0.90, 0.83,
    1.24, 1.17, 1.09, 1.02, 0.95, 0.88, 0.81,
    1.21, 1.15, 1.08, 1.01, 0.94, 0.87, 0.80,
    1.20, 1.13, 1.06, 0.99, 0.92, 0.86, 0.79,
    1.17, 1.11, 1.04, 0.97, 0.91, 0.84, 0.77,
    1.17, 1.10, 1.03, 0.96, 0.90, 0.83, 0.76,
    1.14, 1.08, 1.01, 0.95, 0.88, 0.82, 0.75,
    1.14, 1.07, 1.01, 0.94, 0.87, 0.81, 0.74,
    1.12, 1.06, 0.99, 0.93, 0.86, 0.80, 0.73,
    1.12, 1.05, 0.99, 0.92, 0.86, 0.79, 0.72,
    1.10, 1.04, 0.98, 0.91, 0.85, 0.78, 0.71,
    1.10, 1.03, 0.97, 0.90, 0.84, 0.77, 0.70,
    1.08, 1.02, 0.96, 0.89, 0.83, 0.77, 0.70,
    1.08, 1.02, 0.95, 0.89, 0.82, 0.76, 0.69,
    1.07, 1.01, 0.95, 0.88, 0.82, 0.75, 0.69]
c_high_h = [6.37, 6.40, 6.77, 7.10, 7.27, 7.38, 7.58, 9.04, 9.82, 10.85,
            8.56, 7.83, 8.00, 8.28, 8.44, 8.95, 9.17, 11.53, 11.62, 11.70,
            12.81, 13.45, 13.60, 14.75, 11.75, 12.30, 12.10, 15.45, 15.60, 15.95,
            14.20, 14.40, 13.20, 13.55, 6.55, 6.45, 7.55, 10.29, 12.20, 14.05]
c_high_v = [2.17, 2.04, 1.97, 1.87, 1.86, 1.87, 1.86, 1.89, 1.69, 1.59,
            1.70, 1.78, 1.72, 1.56, 1.56, 1.64, 1.65, 1.71, 1.68, 1.56,
            1.52, 1.53, 1.44, 1.45, 1.42, 1.42, 1.37, 1.36, 1.36, 1.35,
            1.36, 1.37, 1.35, 1.45, 1.85, 1.80, 1.80, 1.57, 1.44, 1.38]
c_low_h = [6.48, 7.44, 7.36, 9.28, 9.93, 10.49, 10.72, 7.27, 7.88, 8.78,
           9.28, 12.10, 12.60, 12.50, 13.00, 13.70, 13.20, 14.30, 14.70, 15.20,
           15.45, 15.90, 16.00, 11.50, 11.00, 14.00, 15.70, 12.90]
c_low_v = [0.67, 0.71, 0.50, 0.70, 0.50, 0.65, 0.78, 0.92, 0.86, 0.84,
           0.82, 0.63, 0.63, 0.56, 0.53, 0.63, 0.60, 0.61, 0.59, 0.61,
           0.54, 0.42, 0.61, 0.72, 0.75, 0.64, 0.58, 0.66]
c_fit_h = [6.09, 6.15, 6.20, 6.31, 6.43, 6.60, 6.87, 7.20, 7.83, 8.40, 8.95, 9.50,
           10.07, 10.60, 11.13, 12.08, 13.21, 14.33, 15.20, 16.06]
c_fit_v = [0.79, 1.00, 1.15, 1.26, 1.31, 1.35, 1.37, 1.35, 1.30, 1.26, 1.22, 1.18,
           1.15, 1.115, 1.09, 1.052, 0.985, 0.928, 0.89, 0.862]
c_alt_h = [6.09, 6.15, 6.20, 6.31, 6.48, 6.65, 6.82, 7.20, 7.83, 8.40, 8.95, 9.50,
           10.07, 10.96, 12.08, 13.21, 14.33, 15.45, 16.00]
c_alt_v = [0.79, 0.99, 1.12, 1.21, 1.255, 1.285, 1.297, 1.285, 1.243, 1.205, 1.171, 1.14,
           1.112, 1.052, 0.993, 0.941, 0.893, 0.855, 0.835]

# ======================= Panel d: methane, 4 pm - 6 am (mol/h) =======================
d_rise_h = [16.00, 16.01, 15.99, 16.02, 16.00, 16.03, 16.05, 16.04, 16.07, 16.06,
            16.09, 16.10, 16.12, 16.11, 16.14, 16.16, 16.15, 16.18, 16.20, 16.22,
            16.25, 16.28, 16.30, 16.33, 16.27, 16.35, 16.24, 16.38, 16.40, 16.45,
            16.48, 16.42, 16.50, 16.44, 16.36]
d_rise_v = [0.72, 0.78, 0.84, 0.88, 0.92, 0.97, 1.02, 1.08, 1.14, 1.20,
            1.27, 1.33, 1.40, 1.46, 1.52, 1.58, 1.64, 1.70, 1.76, 1.82,
            1.88, 1.92, 1.75, 1.60, 1.45, 1.30, 1.20, 1.25, 1.95, 1.85,
            1.70, 1.55, 1.40, 1.28, 1.15]
d_band_h = [
    16.48, 16.65, 16.56, 16.71, 16.52, 16.62, 16.73, 16.59, 16.68,
    16.97, 16.80, 17.02, 16.87, 16.94, 16.77, 16.90, 17.00, 16.84,
    17.15, 17.29, 17.09, 17.23, 17.33, 17.13, 17.26, 17.18, 17.30,
    17.38, 17.55, 17.46, 17.61, 17.42, 17.52, 17.63, 17.49, 17.58,
    17.87, 17.70, 17.92, 17.77, 17.84, 17.67, 17.80, 17.90, 17.74,
    18.05, 18.19, 17.99, 18.13, 18.23, 18.03, 18.16, 18.08, 18.20,
    18.28, 18.45, 18.36, 18.51, 18.32, 18.42, 18.53, 18.39, 18.48,
    18.77, 18.60, 18.82, 18.67, 18.74, 18.57, 18.70, 18.80, 18.64,
    18.95, 19.09, 18.89, 19.03, 19.13, 18.93, 19.06, 18.98, 19.10,
    19.18, 19.35, 19.26, 19.41, 19.22, 19.32, 19.43, 19.29, 19.38,
    19.67, 19.50, 19.72, 19.57, 19.64, 19.47, 19.60, 19.70, 19.54,
    19.85, 19.99, 19.79, 19.93, 20.03, 19.83, 19.96, 19.88, 20.00,
    20.08, 20.25, 20.16, 20.31, 20.12, 20.22, 20.33, 20.19, 20.28,
    20.57, 20.40, 20.62, 20.47, 20.54, 20.37, 20.50, 20.60, 20.44,
    20.75, 20.89, 20.69, 20.83, 20.93, 20.73, 20.86, 20.78, 20.90,
    20.98, 21.15, 21.06, 21.21, 21.02, 21.12, 21.23, 21.09, 21.18,
    21.47, 21.30, 21.52, 21.37, 21.44, 21.27, 21.40, 21.50, 21.34,
    21.65, 21.79, 21.59, 21.73, 21.83, 21.63, 21.76, 21.68, 21.80,
    21.88, 22.05, 21.96, 22.11, 21.92, 22.02, 22.13, 21.99, 22.08,
    22.37, 22.20, 22.42, 22.27, 22.34, 22.17, 22.30, 22.40, 22.24,
    22.55, 22.69, 22.49, 22.63, 22.73, 22.53, 22.66, 22.58, 22.70,
    22.78, 22.95, 22.86, 23.01, 22.82, 22.92, 23.03, 22.89, 22.98,
    23.27, 23.10, 23.32, 23.17, 23.24, 23.07, 23.20, 23.30, 23.14,
    23.45, 23.59, 23.39, 23.53, 23.63, 23.43, 23.56, 23.48, 23.60,
    23.68, 23.85, 23.76, 23.91, 23.72, 23.82, 23.93, 23.79, 23.88,
    24.17, 24.00, 24.22, 24.07, 24.14, 23.97, 24.10, 24.20, 24.04,
    24.35, 24.49, 24.29, 24.43, 24.53, 24.33, 24.46, 24.38, 24.50,
    24.58, 24.75, 24.66, 24.81, 24.62, 24.72, 24.83, 24.69, 24.78,
    25.07, 24.90, 25.12, 24.97, 25.04, 24.87, 25.00, 25.10, 24.94,
    25.25, 25.39, 25.19, 25.33, 25.43, 25.23, 25.36, 25.28, 25.40,
    25.48, 25.65, 25.56, 25.71, 25.52, 25.62, 25.73, 25.59, 25.68,
    25.97, 25.80, 26.02, 25.87, 25.94, 25.77, 25.90, 26.00, 25.84,
    26.15, 26.29, 26.09, 26.23, 26.33, 26.13, 26.26, 26.18, 26.30,
    26.38, 26.55, 26.46, 26.61, 26.42, 26.52, 26.63, 26.49, 26.58,
    26.87, 26.70, 26.92, 26.77, 26.84, 26.67, 26.80, 26.90, 26.74,
    27.05, 27.19, 26.99, 27.13, 27.23, 27.03, 27.16, 27.08, 27.20,
    27.28, 27.45, 27.36, 27.51, 27.32, 27.42, 27.53, 27.39, 27.48,
    27.77, 27.60, 27.82, 27.67, 27.74, 27.57, 27.70, 27.80, 27.64,
    27.95, 28.09, 27.89, 28.03, 28.13, 27.93, 28.06, 27.98, 28.10,
    28.18, 28.35, 28.26, 28.41, 28.22, 28.32, 28.43, 28.29, 28.38,
    28.67, 28.50, 28.72, 28.57, 28.64, 28.47, 28.60, 28.70, 28.54,
    28.85, 28.99, 28.79, 28.93, 29.03, 28.83, 28.96, 28.88, 29.00,
    29.08, 29.25, 29.16, 29.31, 29.12, 29.22, 29.33, 29.19, 29.28,
    29.57, 29.40, 29.62, 29.47, 29.54, 29.37, 29.50, 29.60, 29.44,
    29.75, 29.89, 29.69, 29.83, 29.93, 29.73, 29.86, 29.78, 29.90,
    30.00, 30.02, 29.99, 30.01, 30.00, 30.03]
d_band_v = [
    2.00, 1.91, 1.80, 1.70, 1.61, 1.51, 1.42, 1.30, 1.20,
    1.94, 1.84, 1.75, 1.65, 1.55, 1.45, 1.35, 1.25, 1.17,
    1.94, 1.85, 1.80, 1.70, 1.56, 1.50, 1.37, 1.30, 1.20,
    1.95, 1.86, 1.76, 1.66, 1.57, 1.47, 1.38, 1.27, 1.17,
    1.89, 1.79, 1.70, 1.60, 1.51, 1.40, 1.31, 1.21, 1.13,
    1.88, 1.79, 1.74, 1.64, 1.50, 1.44, 1.31, 1.24, 1.14,
    1.86, 1.77, 1.67, 1.58, 1.49, 1.39, 1.31, 1.20, 1.10,
    1.76, 1.67, 1.59, 1.50, 1.41, 1.31, 1.22, 1.13, 1.06,
    1.75, 1.66, 1.62, 1.52, 1.40, 1.35, 1.23, 1.17, 1.08,
    1.72, 1.64, 1.55, 1.46, 1.39, 1.29, 1.22, 1.12, 1.02,
    1.65, 1.57, 1.48, 1.40, 1.31, 1.22, 1.14, 1.05, 0.98,
    1.65, 1.56, 1.52, 1.43, 1.31, 1.26, 1.14, 1.09, 0.99,
    1.64, 1.56, 1.47, 1.39, 1.32, 1.23, 1.15, 1.05, 0.96,
    1.59, 1.50, 1.42, 1.34, 1.26, 1.17, 1.09, 1.01, 0.94,
    1.59, 1.51, 1.47, 1.38, 1.27, 1.22, 1.10, 1.05, 0.96,
    1.58, 1.51, 1.42, 1.34, 1.27, 1.18, 1.11, 1.02, 0.93,
    1.53, 1.45, 1.37, 1.29, 1.21, 1.12, 1.05, 0.97, 0.90,
    1.53, 1.45, 1.41, 1.32, 1.21, 1.16, 1.05, 0.99, 0.91,
    1.53, 1.46, 1.37, 1.29, 1.22, 1.13, 1.05, 0.96, 0.87,
    1.49, 1.41, 1.33, 1.25, 1.16, 1.08, 1.00, 0.92, 0.85,
    1.51, 1.42, 1.38, 1.29, 1.18, 1.13, 1.01, 0.95, 0.86,
    1.51, 1.43, 1.34, 1.26, 1.18, 1.09, 1.01, 0.92, 0.82,
    1.46, 1.37, 1.29, 1.21, 1.12, 1.03, 0.95, 0.87, 0.80,
    1.45, 1.37, 1.33, 1.24, 1.13, 1.08, 0.97, 0.92, 0.83,
    1.43, 1.36, 1.28, 1.20, 1.13, 1.05, 0.98, 0.89, 0.81,
    1.39, 1.31, 1.24, 1.17, 1.09, 1.01, 0.94, 0.86, 0.80,
    1.39, 1.32, 1.28, 1.20, 1.10, 1.06, 0.96, 0.91, 0.83,
    1.38, 1.32, 1.24, 1.17, 1.11, 1.03, 0.97, 0.89, 0.81,
    1.34, 1.27, 1.20, 1.13, 1.06, 0.99, 0.92, 0.85, 0.79,
    1.34, 1.27, 1.24, 1.16, 1.07, 1.03, 0.93, 0.88, 0.81,
    1.33, 1.27, 1.20, 1.13, 1.07, 1.00, 0.93, 0.85, 0.78,
    1.28, 1.22, 1.15, 1.09, 1.02, 0.95, 0.89, 0.82, 0.77,
    1.28, 1.22, 1.18, 1.12, 1.03, 0.99, 0.90, 0.86, 0.79,
    1.27, 1.21, 1.15, 1.08, 1.03, 0.96, 0.90, 0.83, 0.76,
    1.23, 1.17, 1.11, 1.05, 0.99, 0.92, 0.86, 0.80, 0.75,
    1.24, 1.18, 1.15, 1.08, 1.00, 0.96, 0.87, 0.83, 0.77,
    1.25, 1.19, 1.13, 1.06, 1.01, 0.94, 0.88, 0.81, 0.74,
    1.20, 1.14, 1.08, 1.02, 0.96, 0.89, 0.83, 0.77, 0.72,
    1.21, 1.15, 1.12, 1.06, 0.97, 0.94, 0.85, 0.81, 0.74,
    1.21, 1.16, 1.09, 1.03, 0.98, 0.91, 0.86, 0.79, 0.72,
    1.18, 1.12, 1.06, 1.00, 0.94, 0.88, 0.82, 0.76, 0.71,
    1.17, 1.11, 1.08, 1.02, 0.94, 0.91, 0.82, 0.79, 0.72,
    1.16, 1.11, 1.04, 0.99, 0.93, 0.87, 0.82, 0.75, 0.69,
    1.13, 1.07, 1.01, 0.95, 0.90, 0.83, 0.78, 0.72, 0.67,
    1.13, 1.07, 1.04, 0.98, 0.90, 0.87, 0.78, 0.75, 0.68,
    1.10, 0.98, 0.88, 0.80, 0.72, 0.64]
d_core_h = [
    16.65, 16.80, 16.72, 16.86, 16.68, 16.77, 16.83,
    17.12, 16.96, 17.17, 17.03, 17.09, 16.93, 17.05,
    17.25, 17.40, 17.32, 17.46, 17.28, 17.37, 17.43,
    17.72, 17.56, 17.77, 17.63, 17.69, 17.53, 17.65,
    17.85, 18.00, 17.92, 18.06, 17.88, 17.97, 18.03,
    18.32, 18.16, 18.37, 18.23, 18.29, 18.13, 18.25,
    18.45, 18.60, 18.52, 18.66, 18.48, 18.57, 18.63,
    18.92, 18.76, 18.97, 18.83, 18.89, 18.73, 18.85,
    19.05, 19.20, 19.12, 19.26, 19.08, 19.17, 19.23,
    19.52, 19.36, 19.57, 19.43, 19.49, 19.33, 19.45,
    19.65, 19.80, 19.72, 19.86, 19.68, 19.77, 19.83,
    20.12, 19.96, 20.17, 20.03, 20.09, 19.93, 20.05,
    20.25, 20.40, 20.32, 20.46, 20.28, 20.37, 20.43,
    20.72, 20.56, 20.77, 20.63, 20.69, 20.53, 20.65,
    20.85, 21.00, 20.92, 21.06, 20.88, 20.97, 21.03,
    21.32, 21.16, 21.37, 21.23, 21.29, 21.13, 21.25,
    21.45, 21.60, 21.52, 21.66, 21.48, 21.57, 21.63,
    21.92, 21.76, 21.97, 21.83, 21.89, 21.73, 21.85,
    22.05, 22.20, 22.12, 22.26, 22.08, 22.17, 22.23,
    22.52, 22.36, 22.57, 22.43, 22.49, 22.33, 22.45,
    22.65, 22.80, 22.72, 22.86, 22.68, 22.77, 22.83,
    23.12, 22.96, 23.17, 23.03, 23.09, 22.93, 23.05,
    23.25, 23.40, 23.32, 23.46, 23.28, 23.37, 23.43,
    23.72, 23.56, 23.77, 23.63, 23.69, 23.53, 23.65,
    23.85, 24.00, 23.92, 24.06, 23.88, 23.97, 24.03,
    24.32, 24.16, 24.37, 24.23, 24.29, 24.13, 24.25,
    24.45, 24.60, 24.52, 24.66, 24.48, 24.57, 24.63,
    24.92, 24.76, 24.97, 24.83, 24.89, 24.73, 24.85,
    25.05, 25.20, 25.12, 25.26, 25.08, 25.17, 25.23,
    25.52, 25.36, 25.57, 25.43, 25.49, 25.33, 25.45,
    25.65, 25.80, 25.72, 25.86, 25.68, 25.77, 25.83,
    26.12, 25.96, 26.17, 26.03, 26.09, 25.93, 26.05,
    26.25, 26.40, 26.32, 26.46, 26.28, 26.37, 26.43,
    26.72, 26.56, 26.77, 26.63, 26.69, 26.53, 26.65,
    26.85, 27.00, 26.92, 27.06, 26.88, 26.97, 27.03,
    27.32, 27.16, 27.37, 27.23, 27.29, 27.13, 27.25,
    27.45, 27.60, 27.52, 27.66, 27.48, 27.57, 27.63,
    27.92, 27.76, 27.97, 27.83, 27.89, 27.73, 27.85,
    28.05, 28.20, 28.12, 28.26, 28.08, 28.17, 28.23,
    28.52, 28.36, 28.57, 28.43, 28.49, 28.33, 28.45,
    28.65, 28.80, 28.72, 28.86, 28.68, 28.77, 28.83,
    29.12, 28.96, 29.17, 29.03, 29.09, 28.93, 29.05,
    29.25, 29.40, 29.32, 29.46, 29.28, 29.37, 29.43,
    29.72, 29.56, 29.77, 29.63, 29.69, 29.53, 29.65]
d_core_v = [
    1.87, 1.78, 1.68, 1.59, 1.49, 1.40, 1.31,
    1.85, 1.76, 1.66, 1.57, 1.47, 1.38, 1.29,
    1.83, 1.74, 1.64, 1.55, 1.45, 1.36, 1.27,
    1.80, 1.71, 1.62, 1.52, 1.43, 1.34, 1.25,
    1.76, 1.67, 1.58, 1.49, 1.40, 1.31, 1.23,
    1.72, 1.64, 1.55, 1.46, 1.37, 1.29, 1.21,
    1.68, 1.60, 1.51, 1.43, 1.34, 1.26, 1.18,
    1.64, 1.56, 1.48, 1.40, 1.31, 1.23, 1.15,
    1.61, 1.53, 1.45, 1.37, 1.28, 1.20, 1.12,
    1.57, 1.49, 1.41, 1.33, 1.25, 1.17, 1.10,
    1.54, 1.46, 1.38, 1.30, 1.22, 1.14, 1.07,
    1.51, 1.43, 1.35, 1.28, 1.20, 1.12, 1.05,
    1.48, 1.40, 1.33, 1.25, 1.18, 1.10, 1.03,
    1.46, 1.38, 1.31, 1.23, 1.16, 1.08, 1.01,
    1.44, 1.36, 1.29, 1.22, 1.14, 1.07, 1.00,
    1.42, 1.35, 1.27, 1.20, 1.12, 1.05, 0.98,
    1.40, 1.33, 1.26, 1.18, 1.11, 1.04, 0.97,
    1.38, 1.31, 1.24, 1.17, 1.10, 1.03, 0.96,
    1.36, 1.29, 1.22, 1.15, 1.08, 1.01, 0.94,
    1.34, 1.27, 1.20, 1.13, 1.06, 0.99, 0.93,
    1.32, 1.25, 1.18, 1.12, 1.05, 0.98, 0.92,
    1.30, 1.23, 1.17, 1.10, 1.04, 0.97, 0.91,
    1.28, 1.21, 1.15, 1.08, 1.02, 0.95, 0.89,
    1.26, 1.19, 1.13, 1.07, 1.00, 0.94, 0.88,
    1.24, 1.18, 1.11, 1.05, 0.99, 0.93, 0.87,
    1.22, 1.16, 1.10, 1.04, 0.97, 0.91, 0.86,
    1.20, 1.14, 1.08, 1.02, 0.96, 0.90, 0.85,
    1.19, 1.13, 1.07, 1.01, 0.95, 0.89, 0.84,
    1.17, 1.11, 1.06, 1.00, 0.94, 0.88, 0.83,
    1.16, 1.10, 1.05, 0.99, 0.93, 0.87, 0.82,
    1.14, 1.09, 1.03, 0.97, 0.92, 0.86, 0.81,
    1.13, 1.08, 1.02, 0.97, 0.91, 0.86, 0.81,
    1.12, 1.07, 1.01, 0.96, 0.90, 0.85, 0.80,
    1.11, 1.06, 1.00, 0.95, 0.89, 0.84, 0.79,
    1.10, 1.05, 1.00, 0.94, 0.89, 0.83, 0.79,
    1.09, 1.04, 0.99, 0.93, 0.88, 0.83, 0.78,
    1.08, 1.03, 0.98, 0.92, 0.87, 0.82, 0.77,
    1.07, 1.02, 0.97, 0.92, 0.86, 0.81, 0.77,
    1.06, 1.01, 0.96, 0.91, 0.86, 0.80, 0.76,
    1.05, 1.00, 0.95, 0.90, 0.85, 0.80, 0.76,
    1.04, 0.99, 0.94, 0.89, 0.84, 0.79, 0.75,
    1.03, 0.98, 0.93, 0.88, 0.83, 0.78, 0.74,
    1.02, 0.97, 0.92, 0.87, 0.83, 0.78, 0.74,
    1.02, 0.97, 0.92, 0.87, 0.82, 0.77, 0.73]
d_high_h = [17.44, 16.55, 16.70, 17.05, 17.80, 20.92, 21.26, 21.43, 19.52, 19.97,
            18.90, 18.96, 19.80, 19.82, 19.85, 20.70, 20.75, 20.78, 18.10, 18.30,
            22.20, 22.60, 25.80, 25.50, 27.30, 23.30, 23.40, 23.20, 24.20, 24.60,
            24.90, 24.80, 25.30, 27.80, 27.40, 28.50, 27.10, 28.00, 28.25, 28.40,
            28.60, 28.70, 29.20, 29.80, 30.00, 26.50, 26.00, 26.30, 17.20, 16.90]
d_high_v = [2.03, 1.97, 1.98, 1.97, 1.97, 2.04, 1.85, 1.84, 1.95, 1.97,
            1.83, 1.85, 1.85, 1.78, 1.71, 1.78, 1.73, 1.67, 1.94, 1.90,
            1.60, 1.60, 1.75, 1.60, 1.62, 1.64, 1.64, 1.53, 1.49, 1.50,
            1.48, 1.43, 1.41, 1.45, 1.39, 1.37, 1.27, 1.35, 1.30, 1.30,
            1.22, 1.14, 1.14, 1.18, 1.05, 1.34, 1.29, 1.30, 2.00, 2.02]
d_low_h = [16.90, 17.60, 17.80, 18.00, 18.20, 18.02, 20.38, 21.26, 21.60, 21.96,
           22.50, 22.80, 22.66, 22.77, 23.20, 23.10, 23.60, 24.55, 24.80, 25.06,
           25.10, 25.64, 26.20, 26.26, 27.40, 27.70, 27.80, 27.57, 28.60, 27.60,
           27.70, 28.20, 29.20, 29.40, 29.94, 29.90, 26.60, 26.90, 23.08, 19.50]
d_low_v = [1.17, 1.19, 1.19, 1.12, 1.02, 0.73, 0.86, 0.93, 0.93, 0.83,
           0.87, 0.82, 0.74, 0.53, 0.52, 0.72, 0.60, 0.67, 0.72, 0.50,
           0.62, 0.39, 0.59, 0.59, 0.57, 0.58, 0.58, 0.43, 0.60, 0.66,
           0.66, 0.66, 0.64, 0.66, 0.56, 0.68, 0.69, 0.75, 0.72, 0.95]
d_fit_h = [16.00, 16.11, 16.26, 16.43, 16.65, 16.88, 17.21, 17.66, 18.20, 18.79, 19.35,
           19.91, 20.50, 21.04, 22.16, 23.10, 24.06, 25.18, 26.30, 27.43, 28.55, 30.12]
d_fit_v = [0.88, 1.21, 1.42, 1.54, 1.61, 1.63, 1.616, 1.575, 1.51, 1.456, 1.40,
           1.349, 1.30, 1.254, 1.188, 1.132, 1.076, 1.017, 0.969, 0.934, 0.91, 0.886]
d_alt_h = [16.00, 16.11, 16.26, 16.43, 16.65, 16.88, 17.21, 17.66, 18.20, 18.79, 19.30,
           19.80, 20.81, 21.93, 22.94, 24.06, 25.18, 26.30, 27.43, 28.55, 30.00]
d_alt_v = [0.88, 1.21, 1.42, 1.54, 1.61, 1.625, 1.60, 1.54, 1.47, 1.409, 1.36,
           1.314, 1.23, 1.148, 1.093, 1.029, 0.981, 0.934, 0.898, 0.869, 0.836]

# ---------------- axis ticks / labels ----------------
h2_ticks = [1.0, 0.1, 0.01, 0.001, 0.0001]
h2_labels = ['1e\u22120', '1e\u22121', '1e\u22122', '1e\u22123', '1e\u22124']
ch4_ticks = [0.5, 1.0, 1.5, 2.0]
ch4_labels = ['0.5', '1.0', '1.5', '2.0']
day_ticks = [6, 8, 10, 12, 14, 16]
day_labels = ['6 am', '', '', '12 pm', '', '4 pm']
night_ticks = [16, 18, 20, 22, 24, 26, 28, 30]
night_labels = ['4 pm', '', '8 pm', '', '12 am', '', '', '6 am']

# ---------------- drawing ----------------
W, H = 979, 825
fig = plt.figure(figsize=(W / 100, H / 100), dpi=100)

def box(x0, y0, x1, y1):
    return [x0 / W, 1 - y1 / H, (x1 - x0) / W, (y1 - y0) / H]

ax_a = fig.add_axes(box(140, 38, 461.7, 381))
ax_b = fig.add_axes(box(515, 38, 964.3, 381))
ax_c = fig.add_axes(box(140, 422, 461.7, 724))
ax_d = fig.add_axes(box(515, 422, 964.3, 724))

PT = dict(linestyle='none', marker='o', mfc='none', mec='#d3d3d3', ms=7.4, mew=1.0, zorder=2)
LINE = dict(color='black', lw=2.9, solid_joinstyle='round', solid_capstyle='round', zorder=4)
DASH = dict(color='black', lw=2.9, dash_capstyle='butt', dash_joinstyle='round',
            linestyle=(0, (3.8, 4.2)), zorder=4)

def scat(ax, xs, ys, log=False):
    ys = np.asarray(ys, dtype=float)
    ax.plot(xs, 10 ** ys if log else ys, **PT)

for xs, ys in [(a_rise_h, a_rise_log), (a_peak_h, a_peak_log), (a_band_h, a_band_log),
               (a_core_h, a_core_log), (a_high_h, a_high_log), (a_low_h, a_low_log)]:
    scat(ax_a, xs, ys, log=True)
ax_a.plot(a_fit_h, 10 ** np.asarray(a_fit_log), **LINE)

for xs, ys in [(b_rise_h, b_rise_log), (b_peak_h, b_peak_log), (b_band_h, b_band_log),
               (b_core_h, b_core_log), (b_high_h, b_high_log), (b_low_h, b_low_log)]:
    scat(ax_b, xs, ys, log=True)
ax_b.plot(b_fit_h, 10 ** np.asarray(b_fit_log), **LINE)

for xs, ys in [(c_rise_h, c_rise_v), (c_band_h, c_band_v), (c_core_h, c_core_v),
               (c_high_h, c_high_v), (c_low_h, c_low_v)]:
    scat(ax_c, xs, ys)
ax_c.plot(c_alt_h, c_alt_v, **DASH)
ax_c.plot(c_fit_h, c_fit_v, **LINE)

for xs, ys in [(d_rise_h, d_rise_v), (d_band_h, d_band_v), (d_core_h, d_core_v),
               (d_high_h, d_high_v), (d_low_h, d_low_v)]:
    scat(ax_d, xs, ys)
ax_d.plot(d_alt_h, d_alt_v, **DASH)
ax_d.plot(d_fit_h, d_fit_v, **LINE)

for ax in (ax_a, ax_b):
    ax.set_yscale('log')
    ax.set_ylim(10 ** -4.2, 10 ** 0.165)
for ax in (ax_c, ax_d):
    ax.set_ylim(0.12, 2.28)
for ax in (ax_a, ax_c):
    ax.set_xlim(5.6, 16.4)
for ax in (ax_b, ax_d):
    ax.set_xlim(15.44, 30.56)

TICK = dict(direction='out', length=9, width=0.8, colors='black', labelsize=15.8)
for ax in (ax_a, ax_b, ax_c, ax_d):
    ax.minorticks_off()
    for s in ax.spines.values():
        s.set_linewidth(0.8)
        s.set_color('black')
    ax.tick_params(**TICK)

ax_a.set_yticks(h2_ticks)
ax_a.set_yticklabels(h2_labels)
ax_a.set_xticks([])
ax_a.tick_params(axis='y', pad=10)
ax_b.set_xticks([])
ax_b.set_yticks([])
ax_c.set_yticks(ch4_ticks)
ax_c.set_yticklabels(ch4_labels)
ax_c.set_xticks(day_ticks)
ax_c.set_xticklabels(day_labels)
ax_c.tick_params(axis='y', pad=10)
ax_c.tick_params(axis='x', pad=11)
ax_d.set_yticks([])
ax_d.set_xticks(night_ticks)
ax_d.set_xticklabels(night_labels)
ax_d.tick_params(axis='x', pad=11)

TITLE = dict(fontsize=15.5, fontweight='bold', pad=3.5)
ax_a.set_title('a) Hydrogen', **TITLE)
ax_b.set_title('b) Hydrogen', **TITLE)
ax_c.set_title('c) Methane', **TITLE)
ax_d.set_title('d) Methane', **TITLE)

fig.text(27 / W, 1 - 394 / H, 'Emission rate (mol per h)', rotation=90,
         ha='center', va='center', fontsize=18.4)
fig.text(511 / W, 1 - 801 / H, 'Time (h)', ha='center', va='center', fontsize=18.4)

fig.savefig('out.png', dpi=100)
